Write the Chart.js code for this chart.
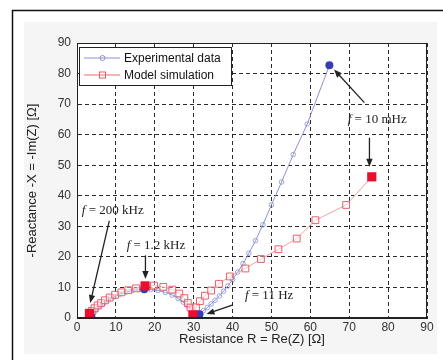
<!DOCTYPE html>
<html>
<head>
<meta charset="utf-8">
<script src="https://cdn.jsdelivr.net/npm/chart.js@4/dist/chart.umd.min.js"></script>
<style>
  html, body { margin: 0; padding: 0; background: #fff; }
  #wrap { width: 443px; height: 360px; position: relative; }
</style>
</head>
<body>
<div id="wrap"><canvas id="c" width="443" height="360"></canvas></div>
<script>
// Nyquist plot: measured vs. modelled impedance
const xTicks = [0, 10, 20, 30, 40, 50, 60, 70, 80, 90];
const yTicks = [0, 10, 20, 30, 40, 50, 60, 70, 80, 90];

// Experimental data: R = Re(Z), -X = -Im(Z)  [Ω]
const expR = [3.7, 4.3, 5.0, 5.9, 6.9, 8.1, 9.5, 11.0, 12.6, 14.2, 15.9, 17.3, 19.0, 20.8, 22.7, 24.5, 26.0, 27.3, 28.4, 29.4, 30.4, 31.5,
              32.5, 33.5, 34.5, 35.5, 36.6, 37.7, 38.8, 40.0, 41.3, 42.7, 44.2, 45.9, 47.8, 50.0, 52.6, 55.6, 59.2, 64.9];
const expX = [0.4, 1.5, 2.6, 3.7, 4.8, 5.9, 6.9, 7.8, 8.5, 9.0, 9.3, 9.4, 9.3, 9.0, 8.4, 7.5, 6.4, 5.2, 4.0, 2.9, 1.8, 1.2,
              2.4, 3.4, 4.6, 5.8, 7.2, 8.8, 10.5, 12.6, 15.0, 17.8, 21.2, 25.3, 30.5, 37.0, 44.5, 53.5, 63.5, 82.7];

// Model simulation
const modR = [3.2, 3.8, 4.5, 5.3, 6.2, 7.2, 8.4, 9.8, 11.4, 13.2, 15.2, 17.5, 19.8, 22.2, 24.5, 26.3, 27.6, 28.5, 29.2, 29.8,
              30.6, 31.6, 32.9, 34.5, 36.5, 39.3, 43.3, 47.3, 51.8, 56.5, 61.3, 69.2, 75.8];
const modX = [1.5, 2.3, 3.2, 4.1, 4.9, 5.8, 6.7, 7.6, 8.4, 9.1, 9.7, 10.5, 10.6, 10.2, 9.3, 8.0, 6.5, 4.9, 3.4, 1.0,
              3.5, 5.5, 7.3, 9.0, 11.2, 13.6, 16.2, 19.3, 22.5, 26.0, 32.0, 37.0, 46.2];

// Marked frequencies: 200 kHz, 1.2 kHz, 11 Hz, 10 mHz
const expMarkR = [3.7, 17.3, 31.5, 64.9];
const expMarkX = [0.4, 9.4, 1.2, 82.7];
const modMarkR = [3.2, 17.5, 29.8, 75.8];
const modMarkX = [1.5, 10.5, 1.0, 46.2];

// Frequency labels (text centre) and arrows (tail -> head), in data units
const noteText = ['200 kHz', '1.2 kHz', '11 Hz', '10 mHz'];
const noteAtR  = [9.2, 20.3, 49.4, 77.2];
const noteAtX  = [35.1, 23.6, 7.5, 64.9];
const arrowFromR = [8.3, 17.6, 40.1, 73.9, 75.2];
const arrowFromX = [31.8, 20.5, 4.3, 70.5, 59.0];
const arrowToR   = [3.4, 17.6, 33.3, 66.1, 75.2];
const arrowToX   = [4.9, 12.8, 1.3, 81.3, 49.5];

const pts = (xs, ys) => xs.map((v, i) => ({ x: v, y: ys[i] }));

const EXP_LINE = '#8c91d6';
const MOD_LINE = '#f0a0a4';
const MOD_MARK = '#e8606c';
const SANS = '"Liberation Sans"';
const SERIF = '"Liberation Serif"';

const backdrop = {
  id: 'backdrop',
  beforeDraw(chart) {
    const { ctx, width, height, chartArea: a } = chart;
    ctx.save();
    ctx.fillStyle = '#ffffff';
    ctx.fillRect(0, 0, width, height);
    ctx.fillStyle = '#f5f5f5';
    ctx.fillRect(24, 22, width - 30, height - 28);
    ctx.fillStyle = '#ffffff';
    ctx.fillRect(a.left, a.top, a.right - a.left, a.bottom - a.top);
    ctx.strokeStyle = '#111';
    ctx.lineWidth = 1.5;
    ctx.beginPath();
    ctx.moveTo(12.5, height);
    ctx.lineTo(12.5, 10.5);
    ctx.lineTo(width, 10.5);
    ctx.stroke();
    ctx.restore();
  }
};

function arrow(ctx, x1, y1, x2, y2) {
  const ang = Math.atan2(y2 - y1, x2 - x1);
  const hl = 8, hw = 3.2;
  ctx.beginPath();
  ctx.moveTo(x1, y1);
  ctx.lineTo(x2 - Math.cos(ang) * hl * 0.8, y2 - Math.sin(ang) * hl * 0.8);
  ctx.stroke();
  ctx.beginPath();
  ctx.moveTo(x2, y2);
  ctx.lineTo(x2 - Math.cos(ang) * hl - Math.sin(ang) * hw, y2 - Math.sin(ang) * hl + Math.cos(ang) * hw);
  ctx.lineTo(x2 - Math.cos(ang) * hl + Math.sin(ang) * hw, y2 - Math.sin(ang) * hl - Math.cos(ang) * hw);
  ctx.closePath();
  ctx.fill();
}

const overlay = {
  id: 'overlay',
  afterDraw(chart) {
    const { ctx, chartArea: a, scales: { x, y } } = chart;
    ctx.save();
    // plot box
    ctx.strokeStyle = '#222';
    ctx.lineWidth = 1;
    ctx.strokeRect(a.left + 0.5, a.top + 0.5, a.right - a.left - 1, a.bottom - a.top - 1);

    // frequency labels
    ctx.fillStyle = '#222';
    ctx.textBaseline = 'middle';
    noteText.forEach((t, i) => {
      const cx = x.getPixelForValue(noteAtR[i]);
      const cy = y.getPixelForValue(noteAtX[i]);
      ctx.font = 'italic 13px ' + SERIF;
      const fw = ctx.measureText('f').width;
      ctx.font = '13px ' + SERIF;
      const rest = ' = ' + t;
      const rw = ctx.measureText(rest).width;
      const x0 = cx - (fw + rw) / 2;
      ctx.textAlign = 'left';
      ctx.font = 'italic 13px ' + SERIF;
      ctx.fillText('f', x0, cy);
      ctx.font = '13px ' + SERIF;
      ctx.fillText(rest, x0 + fw, cy);
    });

    // arrows
    ctx.strokeStyle = '#222';
    ctx.fillStyle = '#222';
    ctx.lineWidth = 1.3;
    arrowFromR.forEach((r, i) => {
      arrow(ctx,
        x.getPixelForValue(r), y.getPixelForValue(arrowFromX[i]),
        x.getPixelForValue(arrowToR[i]), y.getPixelForValue(arrowToX[i]));
    });

    // legend box
    const lx = a.left + 2, ly = a.top + 4, lw = 152, lh = 38;
    ctx.fillStyle = '#fff';
    ctx.fillRect(lx, ly, lw, lh);
    ctx.strokeStyle = '#222';
    ctx.lineWidth = 1;
    ctx.strokeRect(lx + 0.5, ly + 0.5, lw, lh);
    const rows = [
      { label: chart.data.datasets[0].label, color: EXP_LINE, mark: 'circle' },
      { label: chart.data.datasets[1].label, color: '#f06a6a', mark: 'rect' }
    ];
    ctx.font = '12px ' + SANS;
    ctx.textAlign = 'left';
    ctx.textBaseline = 'middle';
    rows.forEach((row, i) => {
      const yy = ly + 11 + i * 17;
      ctx.strokeStyle = row.color;
      ctx.lineWidth = 1;
      ctx.beginPath();
      ctx.moveTo(lx + 5, yy);
      ctx.lineTo(lx + 41, yy);
      ctx.stroke();
      if (row.mark === 'circle') {
        ctx.beginPath();
        ctx.arc(lx + 23.5, yy, 2.5, 0, Math.PI * 2);
        ctx.stroke();
      } else {
        ctx.strokeStyle = MOD_MARK;
        ctx.strokeRect(lx + 20.5, yy - 3, 6, 6);
      }
      ctx.fillStyle = '#111';
      ctx.fillText(row.label, lx + 45, yy + 0.5);
    });
    ctx.restore();
  }
};

new Chart(document.getElementById('c'), {
  type: 'scatter',
  data: {
    datasets: [
      {
        label: 'Experimental data',
        data: pts(expR, expX),
        showLine: true,
        borderColor: EXP_LINE,
        borderWidth: 1,
        pointStyle: 'circle',
        pointRadius: 2.3,
        pointBorderWidth: 0.8,
        pointBorderColor: EXP_LINE,
        pointBackgroundColor: 'rgba(0,0,0,0)',
        order: 3
      },
      {
        label: 'Model simulation',
        data: pts(modR, modX),
        showLine: true,
        borderColor: MOD_LINE,
        borderWidth: 1,
        pointStyle: 'rect',
        pointRadius: 4.8,
        pointBorderWidth: 1,
        pointBorderColor: MOD_MARK,
        pointBackgroundColor: 'rgba(255,255,255,0.4)',
        order: 2
      },
      {
        label: 'exp-marks',
        data: pts(expMarkR, expMarkX),
        showLine: false,
        pointStyle: 'circle',
        pointRadius: 4,
        pointBorderWidth: 0,
        pointBackgroundColor: '#3a3ab8',
        order: 1
      },
      {
        label: 'model-marks',
        data: pts(modMarkR, modMarkX),
        showLine: false,
        pointStyle: 'rect',
        pointRadius: 6.5,
        pointBorderWidth: 0,
        pointBackgroundColor: '#e8102e',
        order: 0
      }
    ]
  },
  options: {
    responsive: false,
    animation: false,
    events: [],
    layout: { padding: { left: 25, right: 16, top: 43, bottom: 10 } },
    plugins: { legend: { display: false }, tooltip: { enabled: false } },
    scales: {
      x: {
        type: 'linear',
        min: 0, max: 90,
        afterBuildTicks: s => { s.ticks = xTicks.map(v => ({ value: v })); },
        afterFit: s => { s.height = 32; },
        ticks: { color: '#333', font: { family: SANS, size: 12 }, padding: 2, maxRotation: 0 },
        grid: { color: 'rgba(20,20,20,0.9)', lineWidth: 1, drawTicks: false },
        border: { display: true, color: '#222', dash: [4, 3] },
        title: {
          display: true,
          text: 'Resistance R = Re(Z) [Ω]',
          color: '#222',
          font: { family: SANS, size: 13 },
          padding: { top: 2, bottom: 3 }
        }
      },
      y: {
        type: 'linear',
        min: 0, max: 90,
        afterBuildTicks: s => { s.ticks = yTicks.map(v => ({ value: v })); },
        afterFit: s => { s.width = 52; },
        ticks: { color: '#333', font: { family: SANS, size: 12 }, padding: 6 },
        grid: { color: 'rgba(20,20,20,0.9)', lineWidth: 1, drawTicks: false },
        border: { display: true, color: '#222', dash: [4, 3] },
        title: {
          display: true,
          text: '-Reactance -X = -Im(Z) [Ω]',
          color: '#222',
          font: { family: SANS, size: 13 },
          padding: { top: 0, bottom: 2 }
        }
      }
    }
  },
  plugins: [backdrop, overlay]
});
</script>
</body>
</html>
